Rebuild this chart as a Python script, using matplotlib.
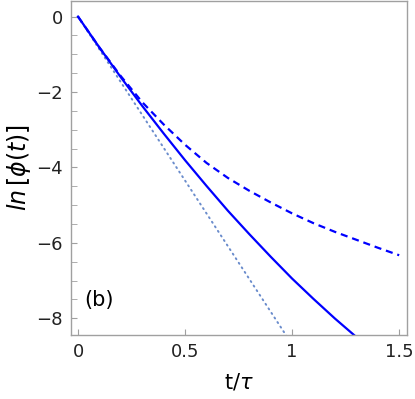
import matplotlib.pyplot as plt
from matplotlib.ticker import MultipleLocator

# values
t_solid = [0, 0.1, 0.2, 0.3, 0.4, 0.5, 0.6, 0.7, 0.8, 0.9, 1.0, 1.1, 1.2, 1.3]
y_solid = [0, -0.82, -1.61, -2.37, -3.10, -3.81, -4.49, -5.15, -5.77, -6.37, -6.95, -7.49, -8.01, -8.50]

t_dash = [0, 0.1, 0.2, 0.3, 0.4, 0.5, 0.6, 0.7, 0.8, 0.9, 1.0, 1.1, 1.2, 1.3, 1.4, 1.5]
y_dash = [0, -0.82, -1.58, -2.27, -2.86, -3.40, -3.88, -4.28, -4.62, -4.93, -5.22, -5.48, -5.71, -5.92, -6.13, -6.33]

t_dot = [0, 1.0]
y_dot = [0, -8.7]

grey = '#a0a0a0'

fig = plt.figure(figsize=(4.15, 3.99), dpi=100)
ax = fig.add_axes([0.171, 0.160, 0.810, 0.838])

ax.plot(t_dot, y_dot, color='#6a8ccc', linestyle=(0, (0.6, 2.2)), linewidth=1.4, dash_capstyle='round')
ax.plot(t_dash, y_dash, color='#0000ff', linestyle=(0, (3.2, 2.2)), linewidth=1.6)
ax.plot(t_solid, y_solid, color='#0000ff', linewidth=1.6)

ax.set_xlim(-0.033, 1.537)
ax.set_ylim(-8.45, 0.42)
ax.set_xticks([0, 0.5, 1, 1.5])
ax.set_xticklabels(['0', '0.5', '1', '1.5'])
ax.set_yticks([0, -2, -4, -6, -8])
ax.set_yticklabels(['0', '\u22122', '\u22124', '\u22126', '\u22128'])
ax.yaxis.set_minor_locator(MultipleLocator(0.5))

for s in ax.spines.values():
    s.set_color(grey)
    s.set_linewidth(1.0)
ax.tick_params(which='both', direction='in', color=grey, labelsize=13, labelcolor='#222222')
ax.tick_params(which='major', length=4, pad=6)
ax.tick_params(which='minor', length=4)

ax.set_xlabel(r't/$\tau$', fontsize=15, labelpad=7)
ax.set_ylabel(r'$\mathit{ln}\,[\phi(t)]$', fontsize=17, labelpad=2)

ax.text(0.083, 0.104, '(b)', transform=ax.transAxes, fontsize=15, ha='center', va='center')

fig.savefig('out.png', dpi=100)
